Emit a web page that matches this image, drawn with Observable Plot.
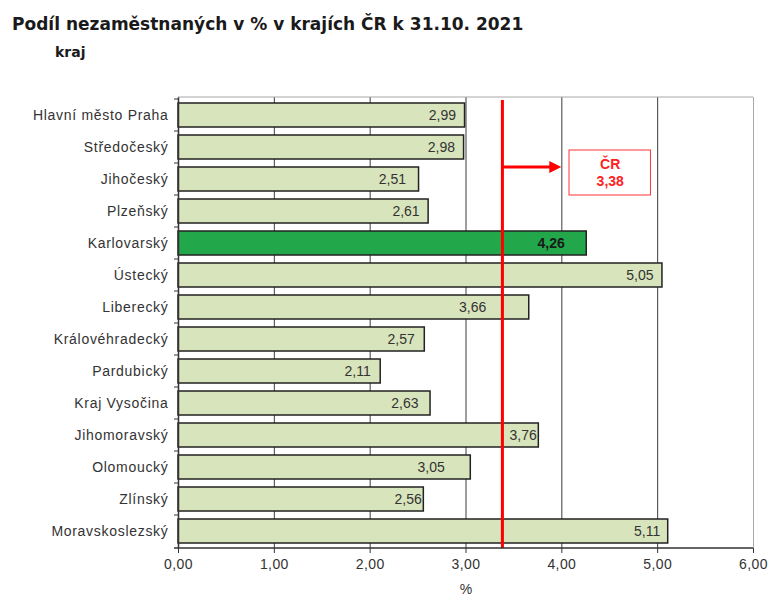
<!DOCTYPE html>
<html><head><meta charset="utf-8">
<script src="https://cdn.jsdelivr.net/npm/d3@7"></script>
<script src="https://cdn.jsdelivr.net/npm/@observablehq/plot@0.6"></script>
<style>
body{margin:0;background:#fff;}
#wrap{position:relative;width:771px;height:595px;overflow:hidden;}
#chart{position:absolute;left:0;top:0;}
#title{position:absolute;left:12px;top:14px;font:bold 17px "DejaVu Sans",sans-serif;color:#1a1a1a;white-space:nowrap;}
#sub{position:absolute;left:55px;top:44px;font:bold 14px "DejaVu Sans",sans-serif;color:#1a1a1a;}
g[aria-label="y-axis tick label"] text{letter-spacing:0.7px;}
g[aria-label="x-axis tick label"] text{letter-spacing:0.4px;}
g[aria-label="value label"] text{letter-spacing:0.9px;}
</style></head><body>
<div id="wrap"><div id="chart"></div>
<div id="title">Podíl nezaměstnaných v % v krajích ČR k 31.10. 2021</div>
<div id="sub">kraj</div></div>
<script>
const regions = ["Hlavní město Praha","Středočeský","Jihočeský","Plzeňský","Karlovarský","Ústecký","Liberecký","Královéhradecký","Pardubický","Kraj Vysočina","Jihomoravský","Olomoucký","Zlínský","Moravskoslezský"];
const values = [2.99, 2.98, 2.51, 2.61, 4.26, 5.05, 3.66, 2.57, 2.11, 2.63, 3.76, 3.05, 2.56, 5.11];
const highlight = "Karlovarský";
const crLabel = "ČR";
const crValue = 3.38;
const xTicks = [0, 1, 2, 3, 4, 5, 6];
const xLabel = "%";

const data = regions.map((r, i) => ({region: r, value: values[i]}));
const fmt = d => d.toFixed(2).replace(".", ",");
const FONT = "Liberation Sans, Arial, sans-serif";

// label placement (as in the original, where some labels were moved by hand)
const labelDx = {"Hlavní město Praha": -10, "Středočeský": -10, "Jihočeský": -14, "Plzeňský": -10, "Karlovarský": -23,
  "Ústecký": -10, "Liberecký": -44, "Královéhradecký": -11, "Pardubický": -11, "Kraj Vysočina": -13,
  "Jihomoravský": -3, "Olomoucký": -27, "Zlínský": -3, "Moravskoslezský": -9};

function extras(index, scales, values_, dims) {
  const x = scales.x, y = scales.y;
  const step = y.step(), bw = y.bandwidth(), gap = (step - bw) / 2;
  const top = dims.marginTop, bottom = dims.height - dims.marginBottom;
  const left = dims.marginLeft, right = dims.width - dims.marginRight;
  const g = d3.create("svg:g");
  g.append("line").attr("x1", left).attr("x2", right).attr("y1", top).attr("y2", top).attr("stroke", "#a8a8a8");
  regions.forEach(r => {
    const yy = y(r) - gap;
    g.append("line").attr("x1", left - 4).attr("x2", left).attr("y1", yy).attr("y2", yy).attr("stroke", "#333");
  });
  g.append("line").attr("x1", left - 4).attr("x2", right).attr("y1", bottom).attr("y2", bottom).attr("stroke", "#333").attr("stroke-width", 1.5);
  const ay = y("Jihočeský");
  const x0 = x(crValue), xt = x(4);
  g.append("line").attr("x1", x0).attr("x2", xt - 10).attr("y1", ay).attr("y2", ay).attr("stroke", "#ff0000").attr("stroke-width", 3);
  g.append("path").attr("d", `M${xt},${ay} L${xt - 12},${ay - 6} L${xt - 12},${ay + 6} Z`).attr("fill", "#ff0000");
  g.append("rect").attr("x", x(4.08)).attr("y", ay - 17).attr("width", x(4.93) - x(4.08)).attr("height", 45)
    .attr("fill", "#fff").attr("stroke", "#ff3333").attr("stroke-width", 1);
  return g.node();
}

const labelMark = (rows, bold) => rows.map(d => Plot.text([d], {
  x: "value", y: "region", text: r => fmt(r.value), textAnchor: "end", dx: labelDx[d.region] + 1,
  fontSize: 14, fontWeight: bold ? "bold" : "normal", fill: bold ? "#1a1a1a" : "#333",
  ariaLabel: "value label"
}));

const chart = Plot.plot({
  width: 771,
  height: 595,
  marginLeft: 178,
  marginRight: 18,
  marginTop: 97,
  marginBottom: 47,
  style: {fontFamily: FONT, background: "white", color: "#333"},
  x: {domain: [0, 6]},
  y: {domain: regions, paddingInner: 0.25, paddingOuter: 0.125},
  marks: [
    Plot.ruleX([1, 2, 3, 4, 5], {stroke: "#3c3c3c", strokeWidth: 1}),
    Plot.ruleX([6], {stroke: "#a8a8a8", strokeWidth: 1}),
    Plot.barX(data.filter(d => d.region !== highlight), {x: "value", y: "region", fill: "#d8e4bc", stroke: "#222", strokeWidth: 1.5}),
    Plot.barX(data.filter(d => d.region === highlight), {x: "value", y: "region", fill: "#22a84a", stroke: "#222", strokeWidth: 1.5}),
    Plot.ruleX([0], {stroke: "#333", strokeWidth: 1.5}),
    ...labelMark(data.filter(d => d.region !== highlight), false),
    ...labelMark(data.filter(d => d.region === highlight), true),
    Plot.ruleX([crValue], {stroke: "#ff0000", strokeWidth: 3, insetTop: 3}),
    extras,
    Plot.text([crLabel + "\n" + fmt(crValue)], {x: 4.505, y: () => "Jihočeský", text: d => d, dy: -7.5, fontSize: 14, fontWeight: "bold", fill: "#ff2020", lineHeight: 1.2}),
    Plot.axisX({ticks: xTicks, tickFormat: fmt, tickSize: 5, tickPadding: 6, fontSize: 14, label: null, stroke: "#333"}),
    Plot.axisY({tickSize: 0, tickPadding: 10, fontSize: 14, label: null}),
    Plot.text([xLabel], {frameAnchor: "bottom", dy: 45, fontSize: 14, fill: "#333"})
  ]
});
document.getElementById("chart").appendChild(chart);
</script>
</body></html>
